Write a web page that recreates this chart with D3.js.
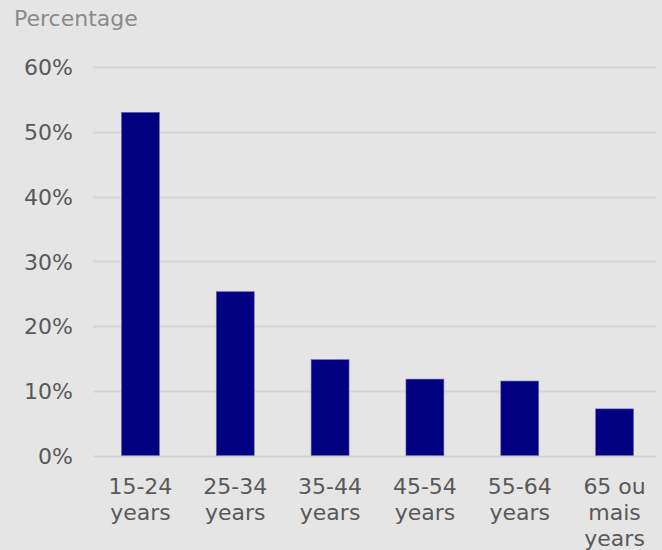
<!DOCTYPE html>
<html>
<head>
<meta charset="utf-8">
<script src="https://cdn.jsdelivr.net/npm/d3@7"></script>
<style>
  html, body { margin: 0; padding: 0; background: #e5e5e5; }
  svg { display: block; }
</style>
</head>
<body>
<svg id="chart" width="662" height="550"></svg>
<script>
// data
var categories = ["15-24 years", "25-34 years", "35-44 years", "45-54 years", "55-64 years", "65 ou mais years"];
var labelLines = [["15-24", "years"], ["25-34", "years"], ["35-44", "years"], ["45-54", "years"], ["55-64", "years"], ["65 ou", "mais", "years"]];
var values = [53.0, 25.3, 14.8, 11.8, 11.5, 7.2];
var yTicks = [0, 10, 20, 30, 40, 50, 60];

var svg = d3.select("#chart"),
  margin = {top: 67, right: 0, bottom: 94, left: 93},
  width = +svg.attr("width") - margin.left - margin.right,
  height = 550 - margin.top - margin.bottom - 0.5,
  font = "'DejaVu Sans', Verdana, sans-serif",
  fs = 22;

svg.append("rect").attr("width", 662).attr("height", 550).attr("fill", "#e5e5e5");

svg.append("text")
  .attr("x", 14)
  .attr("y", 26)
  .attr("font-family", font)
  .attr("font-size", fs)
  .attr("fill", "#8a8a8a")
  .text("Percentage");

var g = svg.append("g").attr("transform", "translate(" + margin.left + "," + margin.top + ")");

var x = d3.scaleBand()
  .domain(categories)
  .range([0, width])
  .paddingInner(0.6)
  .paddingOuter(0.3);

var y = d3.scaleLinear()
  .domain([0, 60])
  .range([height, 0]);

// gridlines
g.append("g")
  .selectAll("line")
  .data(yTicks)
  .enter().append("line")
    .attr("x1", 0)
    .attr("x2", width - 6)
    .attr("y1", function(d) { return Math.round(y(d)) + 0.5; })
    .attr("y2", function(d) { return Math.round(y(d)) + 0.5; })
    .attr("stroke", "#d5d5d5")
    .attr("stroke-width", 2);

// y labels
g.append("g")
  .selectAll("text")
  .data(yTicks)
  .enter().append("text")
    .attr("x", -20)
    .attr("y", function(d) { return y(d); })
    .attr("dy", "0.38em")
    .attr("text-anchor", "end")
    .attr("font-family", font)
    .attr("font-size", fs)
    .attr("fill", "#595959")
    .text(function(d) { return d + "%"; });

// bars
g.append("g")
  .selectAll("rect")
  .data(values)
  .enter().append("rect")
    .attr("x", function(d, i) { return x(categories[i]); })
    .attr("y", function(d) { return y(d); })
    .attr("width", x.bandwidth())
    .attr("height", function(d) { return height - y(d); })
    .attr("fill", "#000080")
    .attr("stroke", "#6a6ab4")
    .attr("stroke-width", 0.6);

// x labels
var xl = g.append("g")
  .selectAll("text")
  .data(categories)
  .enter().append("text")
    .attr("x", function(d) { return x(d) + x.bandwidth() / 2; })
    .attr("y", height + 38)
    .attr("text-anchor", "middle")
    .attr("font-family", font)
    .attr("font-size", fs)
    .attr("fill", "#595959");

xl.selectAll("tspan")
  .data(function(d, i) { return labelLines[i]; })
  .enter().append("tspan")
    .attr("x", function() { var p = this.parentNode; return p.getAttribute("x"); })
    .attr("dy", function(d, i) { return i == 0 ? 0 : 26; })
    .text(function(d) { return d; });
</script>
</body>
</html>
